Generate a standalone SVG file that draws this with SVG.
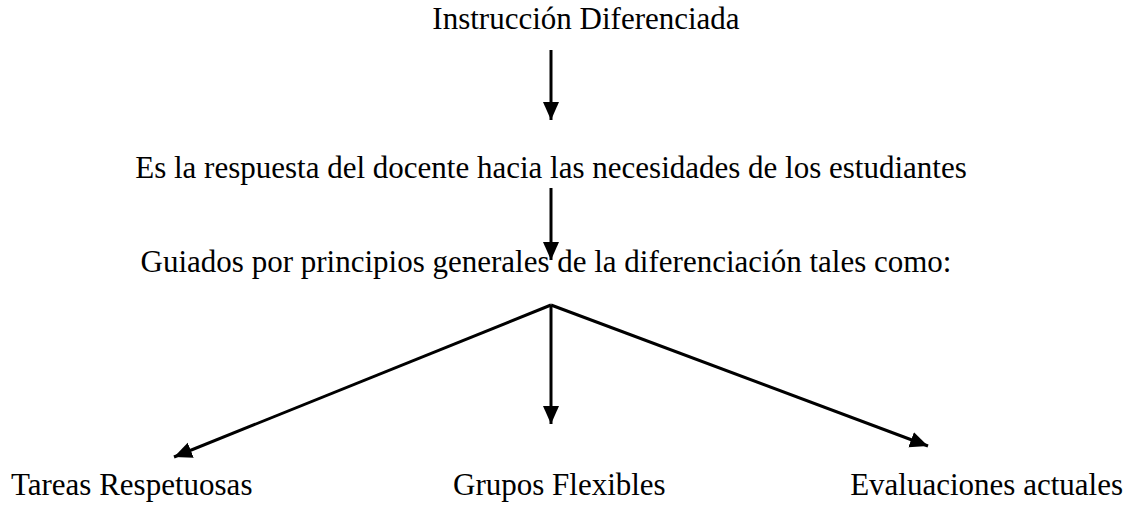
<svg xmlns="http://www.w3.org/2000/svg" width="1135" height="510" viewBox="0 0 1135 510">
<style>
text{font-family:"Liberation Serif","Times New Roman",serif;font-size:31px;fill:#000}
.c{stroke:#000;stroke-width:3;fill:none}
</style>
<defs>
<marker id="ah" markerUnits="userSpaceOnUse" markerWidth="20" markerHeight="18" refX="18" refY="8" orient="auto">
<path d="M0,0 L18,8 L0,16 Z" fill="#000"/>
</marker>
</defs>
<rect width="1135" height="510" fill="#fff"/>
<g id="n1"><text x="586" y="29" text-anchor="middle">Instrucción Diferenciada</text></g>
<g id="n2"><text x="551" y="178" text-anchor="middle">Es la respuesta del docente hacia las necesidades de los estudiantes</text></g>
<g id="n3"><text x="546" y="272" text-anchor="middle">Guiados por principios generales de la diferenciación tales como:</text></g>
<g id="n4"><text x="11" y="495">Tareas Respetuosas</text></g>
<g id="n5"><text x="453" y="495">Grupos Flexibles</text></g>
<g id="n6"><text x="1123" y="495" text-anchor="end">Evaluaciones actuales</text></g>
<g id="connectors">
<line class="c" x1="551" y1="50" x2="551" y2="120" marker-end="url(#ah)"/>
<line class="c" x1="551" y1="188" x2="551" y2="260" marker-end="url(#ah)"/>
<line class="c" x1="551" y1="305" x2="174" y2="457" marker-end="url(#ah)"/>
<line class="c" x1="551" y1="305" x2="551" y2="424" marker-end="url(#ah)"/>
<line class="c" x1="551" y1="305" x2="928" y2="446" marker-end="url(#ah)"/>
</g>
</svg>
